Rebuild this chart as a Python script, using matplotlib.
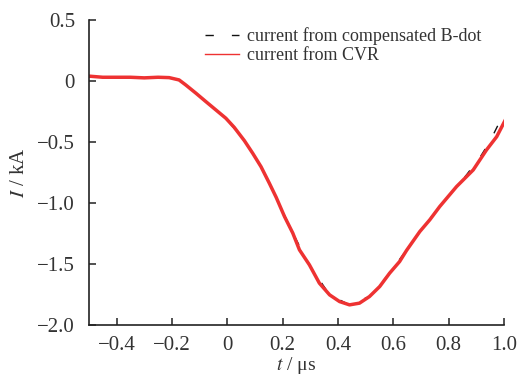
import numpy as np
import matplotlib.pyplot as plt
from matplotlib.ticker import FixedLocator, FuncFormatter

# values
cvr_t = [-0.504, -0.45, -0.40, -0.35, -0.30, -0.25, -0.210, -0.174, -0.150, -0.113,
         -0.077, -0.041, -0.005, 0.025, 0.062, 0.092, 0.122, 0.152, 0.177, 0.207,
         0.237, 0.261, 0.297, 0.333, 0.370, 0.406, 0.442, 0.478, 0.514, 0.551,
         0.587, 0.623, 0.648, 0.696, 0.732, 0.768, 0.829, 0.889, 0.937, 0.974, 1.004]
cvr_i = [0.04, 0.03, 0.03, 0.03, 0.025, 0.03, 0.027, 0.008, -0.033, -0.101,
         -0.170, -0.238, -0.306, -0.380, -0.490, -0.593, -0.703, -0.838, -0.955, -1.112,
         -1.248, -1.385, -1.508, -1.658, -1.754, -1.809, -1.836, -1.822, -1.768, -1.686,
         -1.576, -1.481, -1.390, -1.235, -1.139, -1.030, -0.866, -0.730, -0.566, -0.457, -0.325]

bdot_t = [-0.504, -0.20, -0.150, -0.077, -0.005, 0.062, 0.122, 0.177, 0.237, 0.297,
          0.370, 0.442, 0.514, 0.587, 0.696, 0.768, 0.865, 0.901, 0.919, 0.94, 0.961, 0.979]
bdot_i = [0.03, 0.025, -0.033, -0.170, -0.306, -0.490, -0.703, -0.955, -1.248, -1.508,
          -1.754, -1.836, -1.768, -1.576, -1.235, -1.030, -0.770, -0.661, -0.607, -0.53, -0.443, -0.361]

xticks = [-0.4, -0.2, 0, 0.2, 0.4, 0.6, 0.8, 1.0]
yticks = [0.5, 0, -0.5, -1.0, -1.5, -2.0]

plt.rcParams['font.family'] = ['Liberation Serif', 'DejaVu Serif']
plt.rcParams['mathtext.fontset'] = 'stix'

fig = plt.figure(figsize=(5.26, 3.76), dpi=100)
ax = fig.add_axes([0.169, 0.136, 0.789, 0.811])

ax.plot(bdot_t, bdot_i, color='#111111', lw=1.0, dashes=(6, 13),
        label='current from compensated B-dot')
ax.plot(cvr_t, cvr_i, color='#ee3232', lw=2.5, solid_joinstyle='round',
        label='current from CVR')

ax.set_xlim(-0.5, 1.0)
ax.set_ylim(-2.0, 0.5)
ax.xaxis.set_major_locator(FixedLocator(xticks))
ax.yaxis.set_major_locator(FixedLocator(yticks))
fmt = FuncFormatter(lambda v, p: '0' if abs(v) < 1e-9 else ('%.1f' % v).replace('-', '\u2212'))
ax.xaxis.set_major_formatter(fmt)
ax.yaxis.set_major_formatter(fmt)

for s in ['top', 'right']:
    ax.spines[s].set_visible(False)
for s in ['left', 'bottom']:
    ax.spines[s].set_color('#222222')
    ax.spines[s].set_linewidth(1.2)
ax.tick_params(direction='in', length=5, width=1.1, color='#222222',
               labelsize=15, labelcolor='#333333')
ax.tick_params(axis='x', pad=8)
ax.tick_params(axis='y', pad=10)

ax.set_xlabel('$t$ / \u03bcs', fontsize=14, color='#333333', labelpad=0)
ax.set_ylabel('$I$ / kA', fontsize=15, color='#333333', labelpad=6)

leg = ax.legend(loc='upper left', bbox_to_anchor=(0.28, 0.975), frameon=False,
                fontsize=13, handlelength=1.85, handletextpad=0.45,
                labelspacing=0.1, borderaxespad=0, borderpad=0)
leg.get_lines()[1].set_linewidth(1.0)
for t in leg.get_texts():
    t.set_color('#333333')

fig.savefig('out.png', dpi=100)
